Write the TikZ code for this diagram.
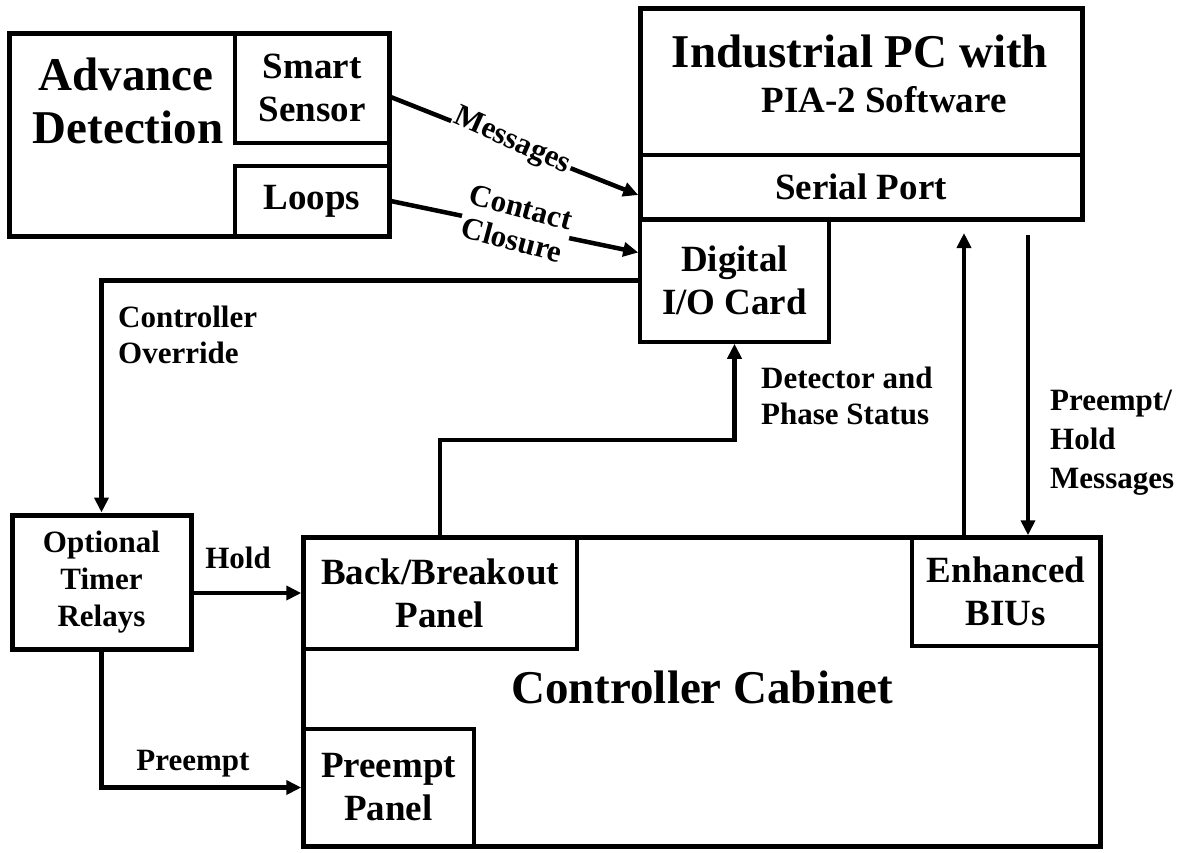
\documentclass[tikz,border=0pt]{standalone}
\usepackage{fontspec}
\setmainfont{Liberation Serif}
\usetikzlibrary{arrows.meta}
\begin{document}
\begin{tikzpicture}[x=1pt,y=-1pt,
  big/.style={font=\fontsize{47}{53}\selectfont\bfseries},
  mid/.style={font=\fontsize{37}{43}\selectfont\bfseries},
  lbl/.style={font=\fontsize{31}{37}\selectfont\bfseries, inner sep=0pt},
  box/.style={draw, line width=3.5pt, inner sep=0pt, align=center},
  outer/.style={box, line width=5pt},
  conn/.style={line width=4.5pt, -{Triangle[length=15pt,width=14pt]}},
  tag/.style={lbl, fill=white, inner sep=2pt}]
\useasboundingbox (0,0) rectangle (1185,852);
% Advance detection
\node[outer, minimum width=380pt, minimum height=203pt] (adv) at (199,134.5) {};
\node[box, mid, minimum width=154pt, minimum height=110pt] (smart) at (312,88) {Smart\\Sensor};
\node[box, mid, minimum width=154pt, minimum height=70pt] (loops) at (312,201) {Loops};
\node[big, anchor=base, inner sep=0pt] (advT1) at (126,90) {Advance};
\node[big, anchor=base, inner sep=0pt] (advT2) at (128,143) {Detection};
% Industrial PC
\node[outer, minimum width=442pt, minimum height=211pt] (pc) at (861,113.5) {};
\node[big, anchor=base, inner sep=0pt] (pcT1) at (860,67) {Industrial PC with};
\node[mid, anchor=base, inner sep=0pt] (pcT2) at (884,112) {PIA-2 Software};
\node[box, mid, minimum width=442pt, minimum height=64pt] (sp) at (861,187) {Serial Port};
\node[box, mid, minimum width=189pt, minimum height=123pt] (dio) at (734.5,280.5) {Digital\\I/O Card};
% Timer relays
\node[outer, font=\fontsize{31}{37}\selectfont\bfseries, minimum width=179pt, minimum height=134pt] (opt) at (101.5,582) {Optional\\Timer\\Relays};
% Controller cabinet
\node[outer, minimum width=797pt, minimum height=309pt] (cab) at (701.5,691.5) {};
\node[big, anchor=base, inner sep=0pt] (cabT) at (702,703) {Controller Cabinet};
\node[box, mid, minimum width=274pt, minimum height=112pt] (back) at (440,593) {Back/Breakout\\Panel};
\node[box, mid, minimum width=171pt, minimum height=117pt] (prep) at (388.5,787.5) {Preempt\\Panel};
\node[box, mid, minimum width=188pt, minimum height=109pt] (biu) at (1006,591.5) {Enhanced\\BIUs};
% connectors
\draw[conn] ([yshift=-9pt]smart.east) -- ([yshift=-8pt]sp.west);
\draw[conn] (loops.east) -- ([yshift=28pt]dio.west);
\draw[conn] (dio.west) -| (opt.north);
\draw[conn] ([yshift=-11pt]opt.east) -- (back.west);
\draw[conn] (opt.south) |- (prep.west);
\coordinate (dt) at (440,440);
\draw[conn] (back.north) -- (dt) -| (dio.south);
\coordinate (upT) at (964,233);
\draw[conn] (upT |- biu.north) -- (upT);
\coordinate (dnS) at (1028,235);
\draw[conn] (dnS) -- (dnS |- biu.north);
% labels
\node[tag, rotate=-24] (lMsg) at (512,142) {Messages};
\node[tag, rotate=-15, align=center, font=\fontsize{31}{34}\selectfont\bfseries] (lCon) at (516.5,223.5) {Contact\\Closure};
\node[lbl, anchor=base west] (lOv1) at (118,327) {Controller};
\node[lbl, anchor=base west] (lOv2) at (118,363) {Override};
\node[lbl, anchor=base west] (lDet1) at (761,388) {Detector and};
\node[lbl, anchor=base west] (lDet2) at (761,424) {Phase Status};
\node[lbl, anchor=base west] (lPH1) at (1050,410) {Preempt/};
\node[lbl, anchor=base west] (lPH2) at (1050,449) {Hold};
\node[lbl, anchor=base west] (lPH3) at (1050,488) {Messages};
\node[lbl, anchor=base] (lHold) at (238,568) {Hold};
\node[lbl, anchor=base] (lPre) at (193,770) {Preempt};
\end{tikzpicture}
\end{document}
